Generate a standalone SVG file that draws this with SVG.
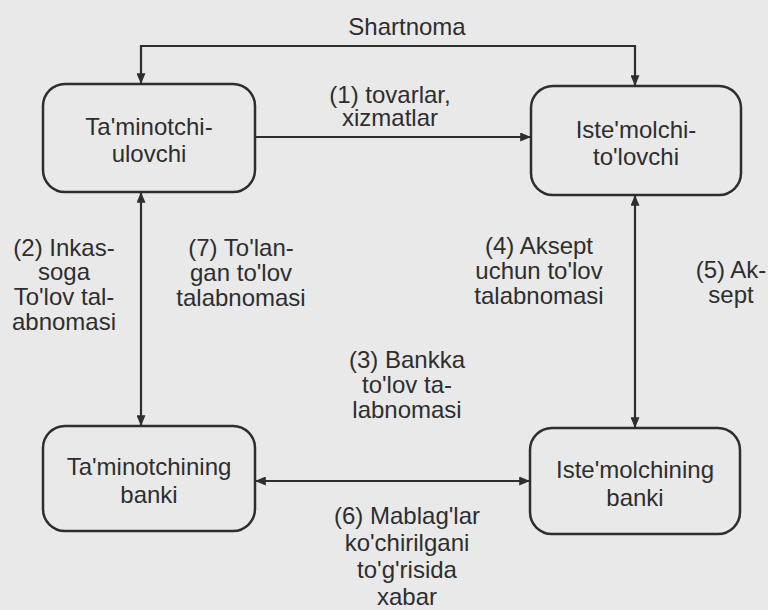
<svg xmlns="http://www.w3.org/2000/svg" width="768" height="610" viewBox="0 0 768 610">
<defs>
<style>
text{font-family:"Liberation Sans",Arial,sans-serif;font-size:24px;fill:#2e2e2e;text-anchor:middle}
.box{fill:none;stroke:#2e2e2e;stroke-width:2.5}
.conn{fill:none;stroke:#2e2e2e;stroke-width:2.2}
</style>
<marker id="ah" viewBox="0 0 12 10" refX="12" refY="5" markerWidth="12" markerHeight="9" markerUnits="userSpaceOnUse" orient="auto-start-reverse">
<path d="M0,0 L12,5 L0,10 Z" fill="#2e2e2e"/>
</marker>
</defs>
<rect width="768" height="610" fill="#e9e9e9"/>
<g id="connectors">
<path class="conn" d="M141,84 V46 H635 V86" marker-start="url(#ah)" marker-end="url(#ah)"/>
<path class="conn" d="M255,137 H531" marker-end="url(#ah)"/>
<path class="conn" d="M141,192 V426" marker-start="url(#ah)" marker-end="url(#ah)"/>
<path class="conn" d="M635,195 V428" marker-start="url(#ah)" marker-end="url(#ah)"/>
<path class="conn" d="M255,481 H530" marker-start="url(#ah)" marker-end="url(#ah)"/>
</g>
<g id="labels">
<text x="407" y="35">Shartnoma</text>
<text x="390" y="103">(1) tovarlar,</text>
<text x="390" y="126">xizmatlar</text>
<text x="64" y="256">(2) Inkas-</text>
<text x="64" y="280">soga</text>
<text x="64" y="305">To'lov tal-</text>
<text x="64" y="330">abnomasi</text>
<text x="241" y="256">(7) To'lan-</text>
<text x="241" y="281">gan to'lov</text>
<text x="241" y="306">talabnomasi</text>
<text x="539" y="254">(4) Aksept</text>
<text x="539" y="279">uchun to'lov</text>
<text x="539" y="304">talabnomasi</text>
<text x="731" y="278">(5) Ak-</text>
<text x="731" y="303">sept</text>
<text x="407" y="368">(3) Bankka</text>
<text x="407" y="393">to'lov ta-</text>
<text x="407" y="418">labnomasi</text>
<text x="407" y="524">(6) Mablag'lar</text>
<text x="407" y="551">ko'chirilgani</text>
<text x="407" y="578">to'g'risida</text>
<text x="407" y="605">xabar</text>
</g>
<g id="n1">
<rect class="box" x="43" y="84" width="212" height="108" rx="22"/>
<text x="149" y="135">Ta'minotchi-</text>
<text x="149" y="162">ulovchi</text>
</g>
<g id="n2">
<rect class="box" x="531" y="86" width="210" height="109" rx="22"/>
<text x="636" y="138">Iste'molchi-</text>
<text x="636" y="165">to'lovchi</text>
</g>
<g id="n3">
<rect class="box" x="43" y="426" width="212" height="105" rx="22"/>
<text x="149" y="475">Ta'minotchining</text>
<text x="149" y="503">banki</text>
</g>
<g id="n4">
<rect class="box" x="530" y="428" width="210" height="106" rx="22"/>
<text x="635" y="478">Iste'molchining</text>
<text x="635" y="506">banki</text>
</g>
</svg>
